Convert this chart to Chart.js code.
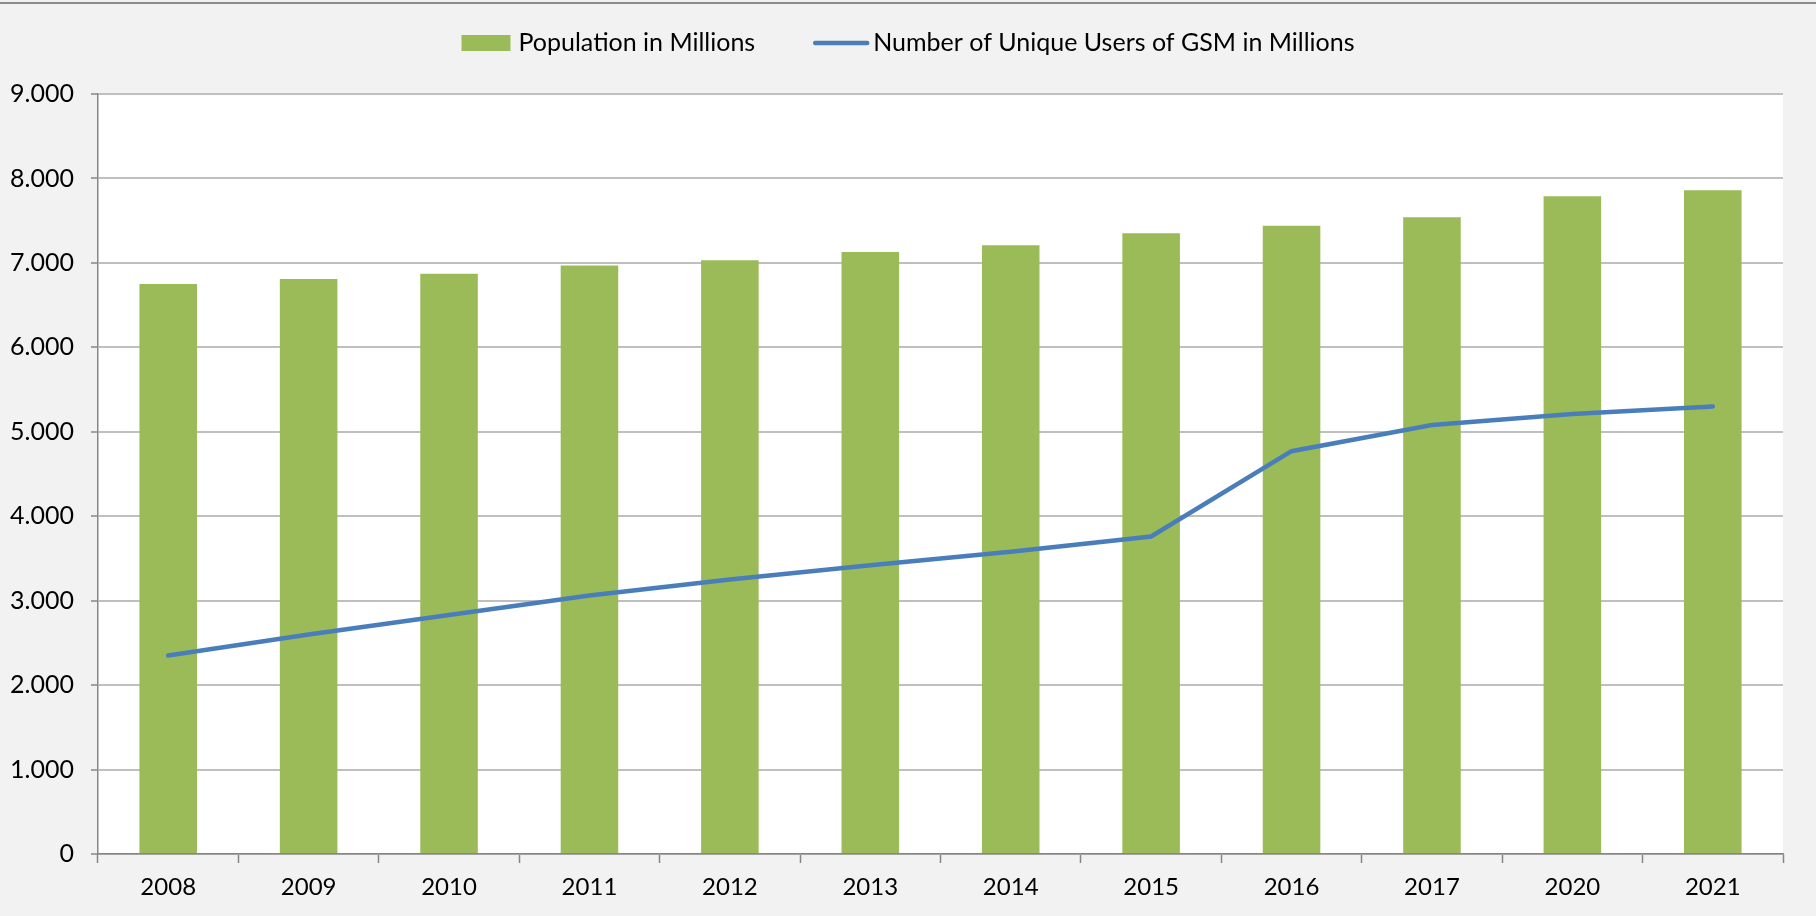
<!DOCTYPE html>
<html>
<head>
<meta charset="utf-8">
<script src="https://cdn.jsdelivr.net/npm/chart.js@4.4.1/dist/chart.umd.min.js"></script>
<style>
  html, body { margin: 0; padding: 0; background: #f2f2f2; }
  .frame { position: relative; width: 1816px; height: 916px; box-sizing: border-box; border-top: 2px solid #8c8c8c; margin-top: 2px; }
  canvas { display: block; }
</style>
</head>
<body>
<div class="frame">
  <canvas id="chart" width="1816" height="912"></canvas>
</div>
<script>
// data
const years = ["2008", "2009", "2010", "2011", "2012", "2013", "2014", "2015", "2016", "2017", "2020", "2021"];
const population = [6750, 6810, 6870, 6970, 7030, 7130, 7210, 7350, 7440, 7540, 7790, 7860];
const gsmUsers = [2350, 2600, 2830, 3060, 3250, 3420, 3580, 3760, 4770, 5080, 5210, 5300];
const yMax = 9000;
const yStep = 1000;

const popLabel = "Population in Millions";
const gsmLabel = "Number of Unique Users of GSM in Millions";
const green = "#9bbb59";
const blue = "#4a7ebb";
const fontFamily = "Lato, 'Liberation Sans', sans-serif";

// white plot area on the grey chart background
const plotBackground = {
  id: "plotBackground",
  beforeDraw(chart) {
    const { ctx, chartArea } = chart;
    ctx.save();
    ctx.fillStyle = "#ffffff";
    ctx.fillRect(chartArea.left, chartArea.top, chartArea.right - chartArea.left, chartArea.bottom - chartArea.top);
    ctx.restore();
  }
};

// excel-like legend: box + text, line + text, centered on top
const topLegend = {
  id: "topLegend",
  afterDraw(chart) {
    const ctx = chart.ctx;
    ctx.save();
    ctx.font = "25px " + fontFamily;
    ctx.textBaseline = "middle";
    ctx.fillStyle = "#000";
    const y = 39;
    const boxW = 49, boxH = 16, lineW = 52, gapText = 8, gapItems = 60;
    const w1 = ctx.measureText(popLabel).width;
    const w2 = ctx.measureText(gsmLabel).width;
    const total = boxW + gapText + w1 + gapItems + lineW + gapText - 2 + w2;
    let x = chart.width / 2 - total / 2;

    ctx.fillStyle = green;
    ctx.fillRect(x, y - boxH / 2, boxW, boxH);
    x += boxW + gapText;
    ctx.fillStyle = "#000";
    ctx.fillText(popLabel, x, y);
    x += w1 + gapItems;

    ctx.strokeStyle = blue;
    ctx.lineWidth = 4.5;
    ctx.lineCap = "round";
    ctx.beginPath();
    ctx.moveTo(x, y);
    ctx.lineTo(x + lineW, y);
    ctx.stroke();
    x += lineW + gapText - 2;
    ctx.fillText(gsmLabel, x, y);
    ctx.restore();
  }
};

new Chart(document.getElementById("chart"), {
  type: "bar",
  data: {
    labels: years,
    datasets: [
      {
        type: "line",
        label: gsmLabel,
        data: gsmUsers,
        borderColor: blue,
        backgroundColor: blue,
        borderWidth: 4.5,
        pointRadius: 0,
        tension: 0,
        borderCapStyle: "round",
        order: 0
      },
      {
        type: "bar",
        label: popLabel,
        data: population,
        backgroundColor: green,
        borderWidth: 0,
        categoryPercentage: 1,
        barPercentage: 0.41,
        order: 1
      }
    ]
  },
  options: {
    responsive: false,
    animation: false,
    devicePixelRatio: 1,
    layout: { padding: { top: 90, left: 10, right: 33, bottom: 0 } },
    plugins: {
      legend: { display: false },
      tooltip: { enabled: false }
    },
    scales: {
      x: {
        grid: {
          offset: true,
          drawOnChartArea: false,
          drawTicks: true,
          tickLength: 9,
          tickColor: "#868686",
          tickWidth: 1.5
        },
        border: { color: "#868686", width: 1.5 },
        ticks: {
          color: "#000",
          font: { family: fontFamily, size: 24 },
          padding: 10,
          maxRotation: 0
        },
        afterFit(axis) { axis.height = 62; }
      },
      y: {
        min: 0,
        max: yMax,
        ticks: {
          stepSize: yStep,
          color: "#000",
          font: { family: fontFamily, size: 25 },
          padding: 17,
          callback: (v) => v === 0 ? "0" : (v / 1000).toFixed(3)
        },
        grid: {
          color: "#bfbfbf",
          lineWidth: 2,
          drawTicks: true,
          tickLength: 7,
          tickColor: "#868686",
          tickWidth: 1.5
        },
        border: { color: "#868686", width: 1.5 },
        afterFit(axis) { axis.width = 88; }
      }
    }
  },
  plugins: [plotBackground, topLegend]
});
</script>
</body>
</html>
